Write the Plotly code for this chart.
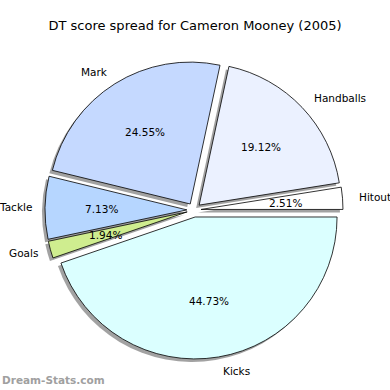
import math
import plotly.graph_objects as go

# ---- data ----
labels = ["Hitout", "Handballs", "Mark", "Tackle", "Goals", "Kicks"]
values = [2.51, 19.12, 24.55, 7.13, 1.94, 44.73]
colors = ["#ffffff", "#ebf1ff", "#c5d9ff", "#b6d6ff", "#cfed8f", "#dbffff"]
title_text = "DT score spread for Cameron Mooney (2005)"
watermark = "Dream-Stats.com"

# ---- geometry (pixels, figure is 390x390, no margins) ----
W = H = 390
cx, cy = 194.0, 210.0          # pie centre, y measured from top
pull = 0.05
outer = 149.0                  # radius incl. pull
r = outer / (1 + pull)
shadow_off = 3.0
total = sum(values)
# plotly offsets a counterclockwise pie by its first slice; compensate so the
# first slice starts at 3 o'clock like matplotlib's startangle=0
rot = 90 - 360.0 * values[0] / total

def dom(cxp, cyp):
    x0 = (cxp - outer) / W
    x1 = (cxp + outer) / W
    yb = H - cyp
    y0 = (yb - outer) / H
    y1 = (yb + outer) / H
    return dict(x=[x0, x1], y=[y0, y1])

fig = go.Figure()
# shadow
fig.add_trace(go.Pie(
    labels=labels, values=values, sort=False, direction="counterclockwise",
    rotation=rot, pull=[pull] * len(values),
    marker=dict(colors=["rgba(70,70,70,0.5)"] * len(values), line=dict(width=0)),
    textinfo="none", hoverinfo="skip", showlegend=False,
    domain=dom(cx - shadow_off, cy + shadow_off),
))
# main pie
fig.add_trace(go.Pie(
    labels=labels, values=values, sort=False, direction="counterclockwise",
    rotation=rot, pull=[pull] * len(values),
    marker=dict(colors=colors, line=dict(color="#000000", width=0.8)),
    textinfo="none", showlegend=False,
    domain=dom(cx, cy),
))

# labels and percentages (matplotlib-style placement)
start = 0.0
annotations = []
for lab, v in zip(labels, values):
    ang = start + v / total * 360.0 / 2
    start += v / total * 360.0
    a = math.radians(ang)
    ux, uy = math.cos(a), math.sin(a)
    ex, ey = cx + pull * r * ux, cy - pull * r * uy
    lx, ly = ex + 1.1 * r * ux, ey - 1.1 * r * uy
    px, py = ex + 0.6 * r * ux, ey - 0.6 * r * uy
    annotations.append(dict(
        x=lx / W, y=1 - ly / H, xref="paper", yref="paper", text=lab,
        showarrow=False, xanchor="left" if ux > 0 else "right", yanchor="middle",
        xshift=0 if ux > 0 else 3,
        font=dict(family="DejaVu Sans", size=10.5, color="#000000"),
    ))
    annotations.append(dict(
        x=px / W, y=1 - py / H, xref="paper", yref="paper", text=f"{v:.2f}%",
        showarrow=False, xanchor="center", yanchor="middle",
        font=dict(family="DejaVu Sans", size=10.5, color="#000000"),
    ))

annotations.append(dict(
    x=0.0, y=1 - 380 / H, xref="paper", yref="paper", text="<b>" + watermark + "</b>",
    showarrow=False, xanchor="left", yanchor="middle",
    font=dict(family="DejaVu Sans", size=10.5, color="#a0a0a0"),
))

fig.update_layout(
    width=W, height=H, margin=dict(l=0, r=0, t=0, b=0),
    paper_bgcolor="#ffffff", plot_bgcolor="#ffffff",
    title=dict(text=title_text, x=0.5, xanchor="center", y=1 - 25 / H, yanchor="middle",
               font=dict(family="DejaVu Sans", size=13, color="#000000")),
    annotations=annotations,
)

fig.write_html("out.html", config={"displayModeBar": False},
               post_script="document.body.style.margin='0';")
